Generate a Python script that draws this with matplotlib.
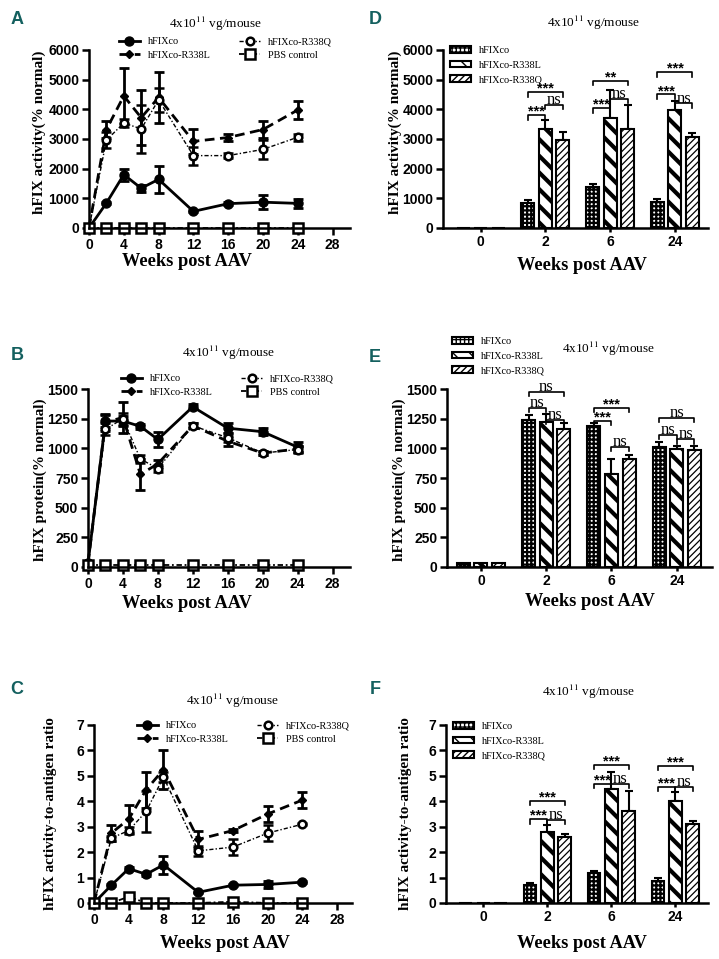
import numpy as np
import matplotlib.pyplot as plt

plt.rcParams['font.family'] = 'Liberation Serif'
plt.rcParams['mathtext.fontset'] = 'stix'

# ---- data ----
weeks = [0, 2, 4, 6, 8, 12, 16, 20, 24]
groups = ['hFIXco', 'hFIXco-R338L', 'hFIXco-R338Q', 'PBS control']

# A: activity (% normal)
act_co = [0, 840, 1800, 1340, 1640, 560, 820, 870, 830]
act_co_err = [0, 40, 200, 110, 460, 30, 40, 230, 140]
act_L = [0, 3320, 4450, 3720, 4400, 2920, 3050, 3320, 3980]
act_L_err = [0, 300, 930, 920, 850, 420, 110, 300, 310]
act_Q = [0, 2960, 3540, 3340, 4320, 2440, 2440, 2650, 3060]
act_Q_err = [0, 280, 150, 800, 400, 300, 90, 320, 120]
act_pbs = [0, 0, 0, 0, 0, 0, 0, 0, 0]

# B: protein (% normal)
prot_co = [30, 1230, 1230, 1185, 1075, 1350, 1170, 1140, 1010]
prot_co_err = [0, 50, 40, 20, 60, 20, 40, 30, 40]
prot_L = [30, 1220, 1260, 780, 870, 1190, 1060, 960, 995]
prot_L_err = [0, 70, 130, 130, 30, 20, 40, 20, 25]
prot_Q = [30, 1160, 1250, 910, 830, 1190, 1090, 960, 990]
prot_Q_err = [0, 50, 50, 30, 30, 20, 40, 20, 30]
prot_pbs = [20, 20, 20, 20, 20, 20, 20, 20, 20]

# C: activity-to-antigen ratio
rat_co = [0, 0.70, 1.35, 1.13, 1.50, 0.42, 0.70, 0.73, 0.82]
rat_co_err = [0, 0.05, 0.05, 0.05, 0.35, 0.03, 0.05, 0.15, 0.05]
rat_L = [0, 2.75, 3.30, 4.45, 5.25, 2.50, 2.85, 3.50, 4.05]
rat_L_err = [0, 0.30, 0.55, 0.72, 0.75, 0.35, 0.05, 0.30, 0.30]
rat_Q = [0, 2.55, 2.85, 3.60, 4.95, 2.05, 2.20, 2.75, 3.10]
rat_Q_err = [0, 0.10, 0.15, 0.80, 0.20, 0.20, 0.30, 0.30, 0.05]
rat_pbs = [0, 0, 0.25, 0, 0, 0, 0.05, 0, 0]

# D/E/F: bar panels at selected weeks
bar_weeks = ['0', '2', '6', '24']
d_co = [0, 850, 1370, 860]
d_co_err = [0, 80, 110, 120]
d_L = [0, 3350, 3720, 3990]
d_L_err = [0, 280, 920, 300]
d_Q = [0, 2960, 3340, 3060]
d_Q_err = [0, 280, 800, 130]

e_co = [35, 1240, 1185, 1010]
e_co_err = [0, 40, 25, 45]
e_L = [35, 1220, 780, 995]
e_L_err = [0, 70, 130, 25]
e_Q = [35, 1160, 910, 990]
e_Q_err = [0, 50, 30, 30]

f_co = [0, 0.72, 1.17, 0.85]
f_co_err = [0, 0.08, 0.08, 0.12]
f_L = [0, 2.80, 4.50, 4.03]
f_L_err = [0, 0.25, 0.65, 0.32]
f_Q = [0, 2.58, 3.62, 3.12]
f_Q_err = [0, 0.15, 0.80, 0.10]

# significance: (group, bar i, bar j, height, label)
d_sig = [(1, 0, 1, 3800, '***'), (1, 1, 2, 4150, 'ns'), (1, 0, 2, 4580, '***'),
         (2, 0, 1, 4030, '***'), (2, 1, 2, 4360, 'ns'), (2, 0, 2, 4960, '**'),
         (3, 0, 1, 4500, '***'), (3, 1, 2, 4200, 'ns'), (3, 0, 2, 5250, '***')]
e_sig = [(1, 0, 1, 1340, 'ns'), (1, 1, 2, 1240, 'ns'), (1, 0, 2, 1477, 'ns'),
         (2, 0, 1, 1233, '***'), (2, 0, 2, 1340, '***'), (2, 1, 2, 1014, 'ns'),
         (3, 0, 1, 1112, 'ns'), (3, 1, 2, 1078, 'ns'), (3, 0, 2, 1256, 'ns')]
f_sig = [(1, 0, 1, 3.30, '***'), (1, 1, 2, 3.27, 'ns'), (1, 0, 2, 4.03, '***'),
         (2, 0, 1, 4.69, '***'), (2, 1, 2, 4.69, 'ns'), (2, 0, 2, 5.43, '***'),
         (3, 0, 1, 4.58, '***'), (3, 1, 2, 4.58, 'ns'), (3, 0, 2, 5.40, '***')]

W, H = 719, 959
fig = plt.figure(figsize=(7.19, 9.59), dpi=100)


def fx(x):
    return x / W


def fy(y):
    return 1 - y / H


def box(l, t, r, b):
    return [l / W, 1 - b / H, (r - l) / W, (b - t) / H]


tick_font = dict(family='Liberation Sans', weight='bold', size=10)
title = '4x10$^{11}$ vg/mouse'


def style_axes(ax):
    for s in ['top', 'right']:
        ax.spines[s].set_visible(False)
    for s in ['left', 'bottom']:
        ax.spines[s].set_linewidth(1.8)
    ax.tick_params(direction='out', length=5, width=1.8, pad=2)
    for lab in ax.get_xticklabels() + ax.get_yticklabels():
        lab.set_fontproperties(tick_font)


def line_panel(rect, xmax, ymax, ystep, series, errs, leg_xy):
    ax = fig.add_axes(rect)
    styles = [
        dict(color='black', lw=2, ls='-', marker='o', ms=6.5, mfc='black', mec='black'),
        dict(color='black', lw=2, ls=(0, (3.5, 2)), marker='D', ms=4.5, mfc='black', mec='black'),
        dict(color='black', lw=1, ls=(0, (3, 1.5, 1, 1.5)), marker='o', ms=5.5, mfc='white', mec='black', mew=1.8),
        dict(color='black', lw=1.3, ls=(0, (3, 1.5, 1, 1.5)), marker='s', ms=6.5, mfc='white', mec='black', mew=1.8),
    ]
    handles = []
    for vals, err, st in zip(series, errs, styles):
        c = ax.errorbar(weeks, vals, yerr=err, capsize=3.5, elinewidth=2, capthick=2, ecolor='black', **st)
        handles.append(c[0])
    for a in ax.lines + ax.collections:
        a.set_clip_on(False)
    ax.set_xlim(0, xmax)
    ax.set_ylim(0, ymax)
    ax.set_xticks(np.arange(0, 29, 4))
    ax.set_yticks(np.arange(0, ymax + 1e-9, ystep))
    style_axes(ax)
    ax.legend(handles, groups, ncol=2, loc='upper left', bbox_to_anchor=(fx(leg_xy[0]), fy(leg_xy[1])),
              bbox_transform=fig.transFigure, frameon=False, fontsize=7.4, handlelength=2.0,
              columnspacing=2.8, labelspacing=0.45, handletextpad=0.8, borderpad=0, borderaxespad=0)
    return ax


def bar_panel(rect, xlim, ymax, ystep, vals, errs, sig, leg_xy):
    ax = fig.add_axes(rect)
    x = np.arange(len(bar_weeks))
    hatches = ['++++', '\\\\', '/////']
    hlw = [1.6, 3.0, 0.9]
    off, wid = 0.27, 0.2
    for k, (v, e) in enumerate(zip(vals, errs)):
        pos = x + (k - 1) * off
        with plt.rc_context({'hatch.linewidth': hlw[k]}):
            bars = ax.bar(pos, v, wid, color='white', edgecolor='black', hatch=hatches[k],
                          linewidth=1.5, label=groups[k], zorder=2)
        for b in bars:
            if hasattr(b, 'set_hatch_linewidth'):
                b.set_hatch_linewidth(hlw[k])
        e = np.array(e)
        m = e > 0
        ax.errorbar(pos[m], np.array(v)[m], yerr=[np.zeros(m.sum()), e[m]], fmt='none', ecolor='black',
                    elinewidth=1.5, capsize=3, capthick=1.5, zorder=1)
    tick = ymax * 0.025
    for g, i, j, y, txt in sig:
        x1 = g + (i - 1) * off
        x2 = g + (j - 1) * off
        ax.plot([x1, x1, x2, x2], [y - tick, y, y, y - tick], color='black', lw=1.2, clip_on=False)
        if txt == 'ns':
            ax.annotate(txt, ((x1 + x2) / 2, y), xytext=(0, 0.5), textcoords='offset points',
                        ha='center', va='baseline', fontsize=12, annotation_clip=False)
        else:
            ax.annotate(txt, ((x1 + x2) / 2, y), xytext=(0, -2.5), textcoords='offset points',
                        ha='center', va='bottom', fontsize=10.5, fontweight='bold',
                        family='Liberation Sans', annotation_clip=False)
    ax.set_xlim(*xlim)
    ax.set_ylim(0, ymax)
    ax.set_xticks(x)
    ax.set_xticklabels(bar_weeks)
    ax.set_yticks(np.arange(0, ymax + 1e-9, ystep))
    style_axes(ax)
    ax.tick_params(axis='x', length=3)
    ax.legend(loc='upper left', bbox_to_anchor=(fx(leg_xy[0]), fy(leg_xy[1])),
              bbox_transform=fig.transFigure, frameon=False, fontsize=7.4, handlelength=2.0,
              handleheight=0.6, labelspacing=0.55, handletextpad=0.8, borderpad=0, borderaxespad=0)
    return ax


# A
line_panel(box(89, 50, 350, 228), 30, 6000, 1000,
           [act_co, act_L, act_Q, act_pbs], [act_co_err, act_L_err, act_Q_err, None], (119, 37))
# B
line_panel(box(88, 389, 350, 567), 30, 1500, 250,
           [prot_co, prot_L, prot_Q, prot_pbs], [prot_co_err, prot_L_err, prot_Q_err, None], (121, 374))
# C
line_panel(box(94, 725, 352, 903), 29.7, 7, 1,
           [rat_co, rat_L, rat_Q, rat_pbs], [rat_co_err, rat_L_err, rat_Q_err, None], (137, 721))
# D
bar_panel(box(443, 50, 708, 228), (-0.58, 3.51), 6000, 1000,
          [d_co, d_L, d_Q], [d_co_err, d_L_err, d_Q_err], d_sig, (450, 46))
# E
bar_panel(box(447, 389, 712, 567), (-0.52, 3.54), 1500, 250,
          [e_co, e_L, e_Q], [e_co_err, e_L_err, e_Q_err], e_sig, (452, 337))
# F
bar_panel(box(446, 725, 708, 903), (-0.58, 3.51), 7, 1,
          [f_co, f_L, f_Q], [f_co_err, f_L_err, f_Q_err], f_sig, (453, 722))

# titles, axis labels, panel letters
for x, y in [(215, 24), (593, 23), (228, 353), (608, 349), (232, 701), (588, 692)]:
    fig.text(fx(x), fy(y), title, ha='center', va='center', fontsize=9.5)

for x, y in [(187, 261), (582, 266), (187, 603), (590, 601), (225, 943), (582, 943)]:
    fig.text(fx(x), fy(y), 'Weeks post AAV', ha='center', va='center', fontsize=13.2, fontweight='bold')

ylabels = [(39, 132, 'hFIX activity(% normal)'), (395, 132, 'hFIX activity(% normal)'),
           (40, 480, 'hFIX protein(% normal)'), (399, 480, 'hFIX protein(% normal)'),
           (51, 814, 'hFIX activity-to-antigen ratio'), (405, 814, 'hFIX activity-to-antigen ratio')]
for x, y, s in ylabels:
    fig.text(fx(x), fy(y), s, ha='center', va='center', rotation=90, fontsize=11, fontweight='bold')

for x, y, s in [(17, 20, 'A'), (375, 20, 'D'), (17, 355, 'B'), (375, 357, 'E'), (17, 690, 'C'), (375, 690, 'F')]:
    fig.text(fx(x), fy(y), s, ha='center', va='center', fontsize=13, fontweight='bold',
             family='Liberation Sans', color='#14605f')

fig.savefig('out.png', dpi=100)
